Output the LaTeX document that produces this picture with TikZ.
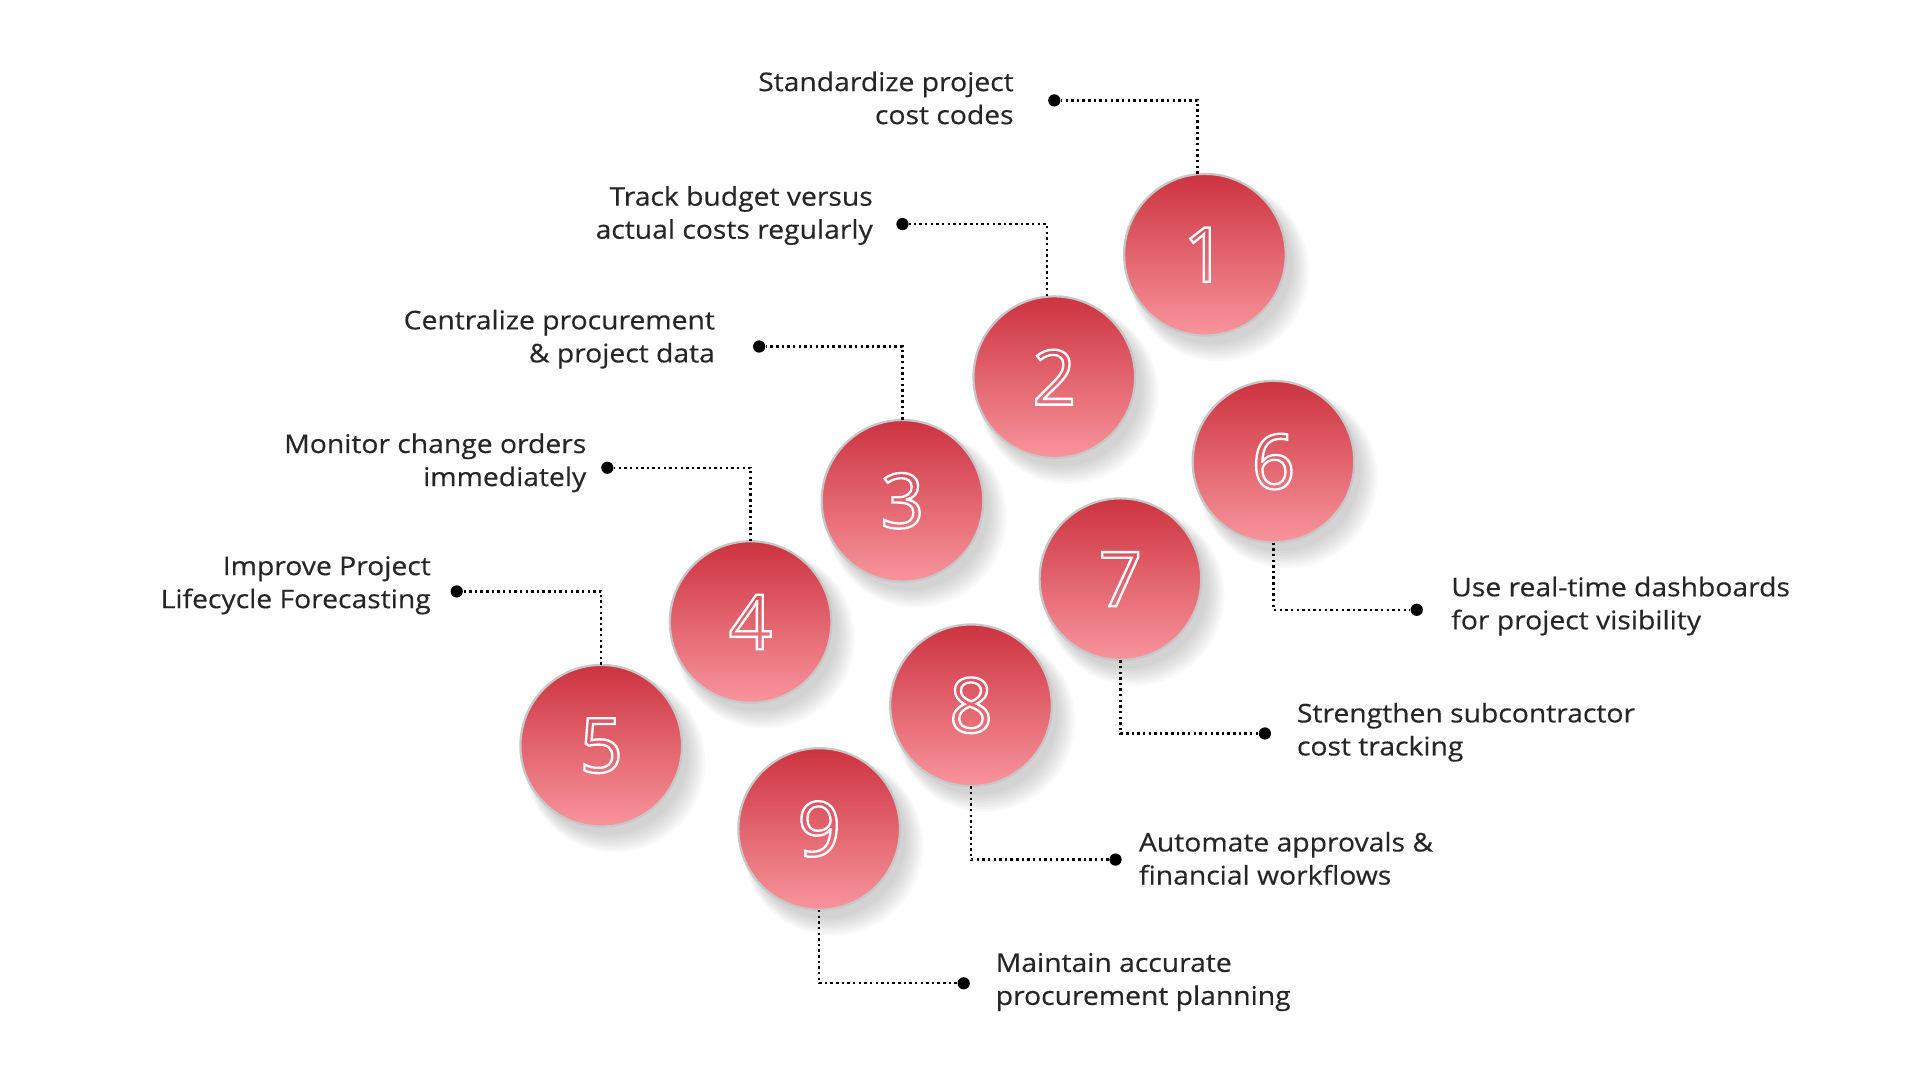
\documentclass[tikz,border=0pt]{standalone}
\usepackage{fontspec}
\setmainfont{Open Sans}[FakeStretch=1.1,FakeBold=0.4]
\newfontfamily\numfont{Open Sans}
\begin{document}
\begin{tikzpicture}[x=1pt,y=-1pt,
  lbl/.style={font=\fontsize{21}{27}\selectfont, text=black!85, inner sep=0pt},
  conn/.style={dash pattern=on 2pt off 2.6pt, line width=2pt},
  dot/.style={circle, fill=black, inner sep=0pt, minimum size=10pt}]
\useasboundingbox (0,0) rectangle (1568,882);
\definecolor{ctop}{HTML}{CC3340}
\definecolor{cbot}{HTML}{F8959C}
\newcommand{\ball}[4]{%
  \foreach \k in {1,...,8}{\fill[black, opacity=0.025] (#2+5+\k*0.8,#3+7+\k*0.8) circle (64+\k*1.2);}
  \shade[top color=ctop, bottom color=cbot, draw=black!22, line width=1.8pt] (#2,#3) circle (66);
  \node[circle, minimum size=132pt, inner sep=0pt] (#1) at (#2,#3) {};
  \node at (#2,#3) {\numfont\fontsize{62}{62}\selectfont\special{pdf:code q 1 Tr 1.9 w 1 1 1 RG}#4\special{pdf:code Q}};}
\ball{c1}{984}{208}{1}
\ball{c2}{861}{308}{2}
\ball{c3}{737}{409}{3}
\ball{c4}{613}{508}{4}
\ball{c5}{491}{609}{5}
\ball{c6}{1040}{377}{6}
\ball{c7}{915}{473}{7}
\ball{c8}{793}{576}{8}
\ball{c9}{669}{677}{9}
% left labels
\node[dot] (d1) at (861,82) {};
\draw[conn] ([xshift=-6pt]c1.north) |- (d1);
\node[lbl, align=right, anchor=east] (t1) at (828,80) {Standardize project\\cost codes};
\node[dot] (d2) at (737,183) {};
\draw[conn] ([xshift=-6pt]c2.north) |- (d2);
\node[lbl, align=right, anchor=east] (t2) at (713,176) {Track budget versus\\actual costs regularly};
\node[dot] (d3) at (620,283) {};
\draw[conn] (c3.north) |- (d3);
\node[lbl, align=right, anchor=east] (t3) at (584,277) {Centralize procurement\\\& project data};
\node[dot] (d4) at (496,382) {};
\draw[conn] (c4.north) |- (d4);
\node[lbl, align=right, anchor=east] (t4) at (479,378) {Monitor change orders\\immediately};
\node[dot] (d5) at (373,483) {};
\draw[conn] (c5.north) |- (d5);
\node[lbl, align=right, anchor=east] (t5) at (352,478) {Improve Project\\Lifecycle Forecasting};
% right labels
\node[dot] (d6) at (1157,498) {};
\draw[conn] (c6.south) |- (d6);
\node[lbl, align=left, anchor=west] (t6) at (1185,495) {Use real-time dashboards\\for project visibility};
\node[dot] (d7) at (1033,599) {};
\draw[conn] (c7.south) |- (d7);
\node[lbl, align=left, anchor=west] (t7) at (1059,598) {Strengthen subcontractor\\cost tracking};
\node[dot] (d8) at (911,702) {};
\draw[conn] (c8.south) |- (d8);
\node[lbl, align=left, anchor=west] (t8) at (930,701) {Automate approvals \&\\financial workflows};
\node[dot] (d9) at (787,803) {};
\draw[conn] (c9.south) |- (d9);
\node[lbl, align=left, anchor=west] (t9) at (813,802) {Maintain accurate\\procurement planning};
\end{tikzpicture}
\end{document}
